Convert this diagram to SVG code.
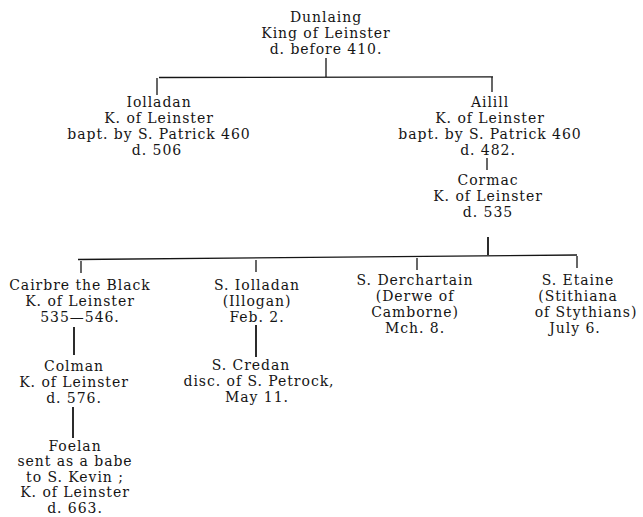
<svg xmlns="http://www.w3.org/2000/svg" width="643" height="517" viewBox="0 0 643 517">
<style>
text{font-family:"DejaVu Serif","Liberation Serif",serif;font-size:14px;letter-spacing:0.95px;fill:#151515;text-anchor:middle}
.c line{stroke:#151515;stroke-width:1.3;fill:none}
.c .t{stroke-width:1.8}
</style>
<rect width="643" height="517" fill="#ffffff"/>
<g id="dunlaing">
<text x="326" y="21.5">Dunlaing</text>
<text x="326" y="37.5">King of Leinster</text>
<text x="326" y="53.5">d. before 410.</text>
</g>
<g id="iolladan">
<text x="159" y="107">Iolladan</text>
<text x="159" y="123">K. of Leinster</text>
<text x="159" y="139">bapt. by S. Patrick 460</text>
<text x="157" y="155">d. 506</text>
</g>
<g id="ailill">
<text x="490" y="107">Ailill</text>
<text x="490" y="123">K. of Leinster</text>
<text x="490" y="139">bapt. by S. Patrick 460</text>
<text x="488" y="155">d. 482.</text>
</g>
<g id="cormac">
<text x="488" y="185">Cormac</text>
<text x="488" y="201">K. of Leinster</text>
<text x="488" y="217">d. 535</text>
</g>
<g id="cairbre">
<text x="80" y="290">Cairbre the Black</text>
<text x="80" y="306">K. of Leinster</text>
<text x="80" y="322">535—546.</text>
</g>
<g id="colman">
<text x="74" y="371">Colman</text>
<text x="74" y="387">K. of Leinster</text>
<text x="74" y="403">d. 576.</text>
</g>
<g id="foelan">
<text x="75" y="450.5">Foelan</text>
<text x="75" y="466">sent as a babe</text>
<text x="75" y="481.5">to S. Kevin ;</text>
<text x="75" y="497">K. of Leinster</text>
<text x="75" y="512.5">d. 663.</text>
</g>
<g id="s-iolladan">
<text x="257" y="290">S. Iolladan</text>
<text x="257" y="306">(Illogan)</text>
<text x="257" y="322">Feb. 2.</text>
</g>
<g id="s-credan">
<text x="251" y="370">S. Credan</text>
<text x="259" y="386">disc. of S. Petrock,</text>
<text x="257" y="402">May 11.</text>
</g>
<g id="s-derchartain">
<text x="415" y="285">S. Derchartain</text>
<text x="415" y="301">(Derwe of</text>
<text x="415" y="317">Camborne)</text>
<text x="415" y="333">Mch. 8.</text>
</g>
<g id="s-etaine">
<text x="578" y="285">S. Etaine</text>
<text x="578" y="301">(Stithiana</text>
<text x="586" y="317">of Stythians)</text>
<text x="575" y="333">July 6.</text>
</g>
<g id="connectors" class="c">
<line x1="326" y1="58" x2="326" y2="77"/>
<line x1="159" y1="77.5" x2="493" y2="76.8"/>
<line x1="157" y1="78" x2="157" y2="95"/>
<line x1="492" y1="77" x2="492" y2="92"/>
<line x1="487" y1="158" x2="487" y2="170"/>
<line class="t" x1="488" y1="237" x2="488" y2="255"/>
<line x1="78" y1="259.5" x2="577" y2="255"/>
<line x1="81" y1="261" x2="81" y2="273"/>
<line x1="256" y1="260" x2="256" y2="272"/>
<line x1="417" y1="258" x2="417" y2="270"/>
<line x1="577" y1="256" x2="577" y2="268"/>
<line class="t" x1="74" y1="327" x2="74" y2="355"/>
<line class="t" x1="256" y1="325" x2="256" y2="357"/>
<line class="t" x1="73" y1="407" x2="73" y2="438"/>
</g>
</svg>
